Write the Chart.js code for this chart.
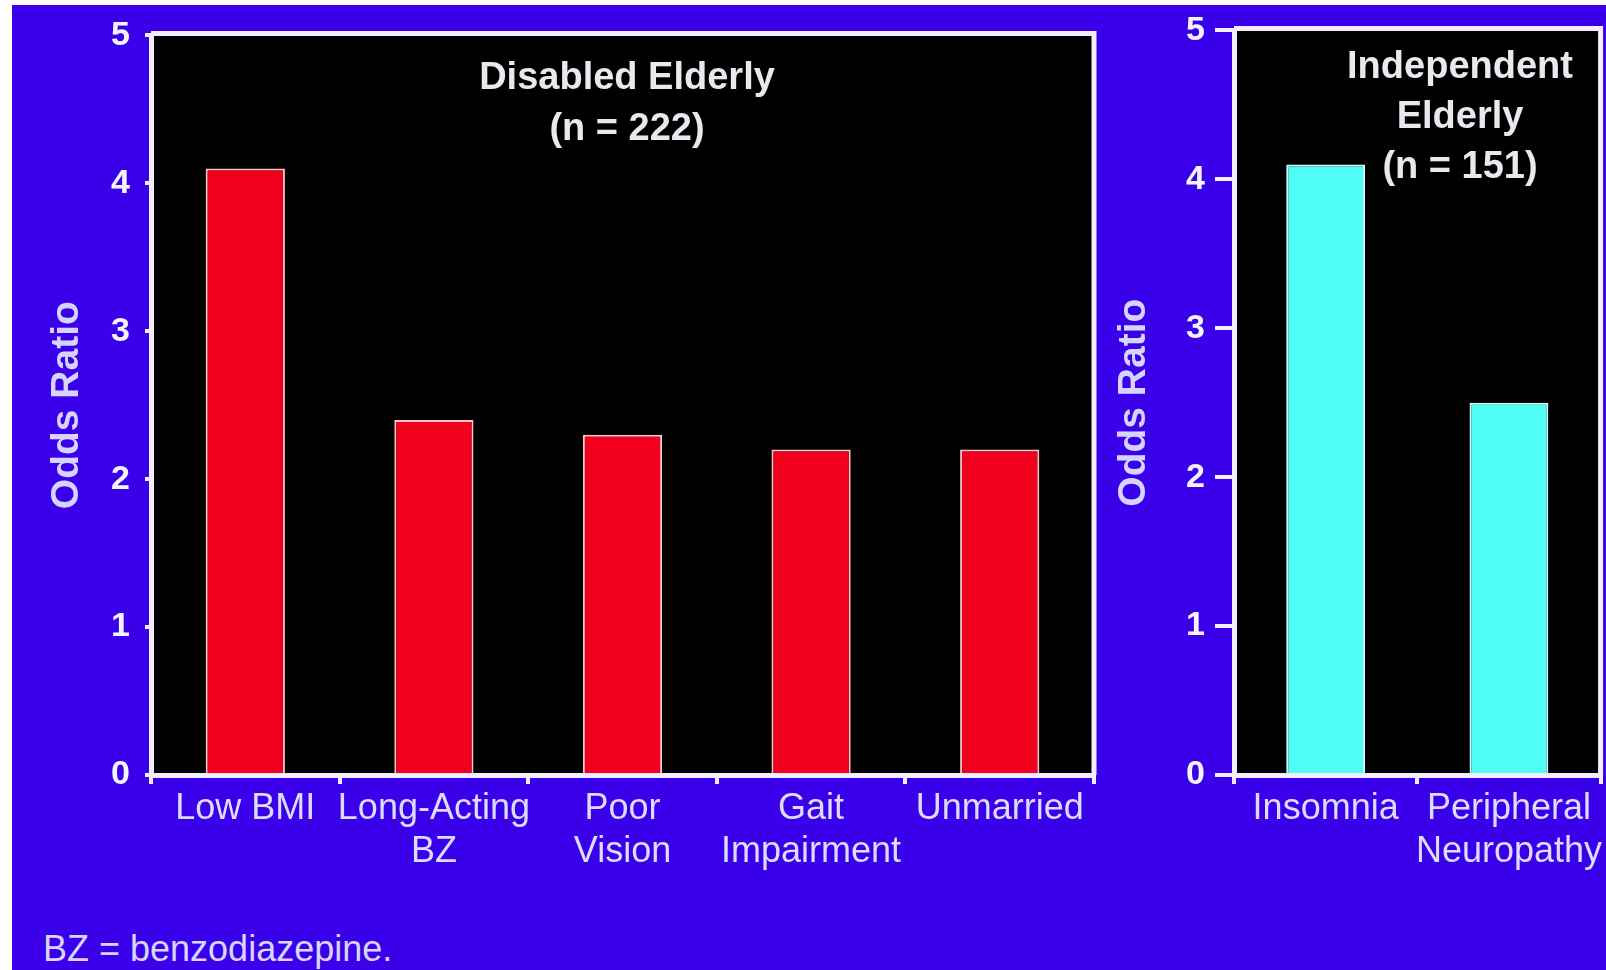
<!DOCTYPE html>
<html>
<head>
<meta charset="utf-8">
<title>Odds Ratio - Disabled vs Independent Elderly</title>
<script src="https://cdn.jsdelivr.net/npm/chart.js@4/dist/chart.umd.min.js"></script>
<style>
  html, body { margin: 0; padding: 0; background: #ffffff; overflow: hidden; }
  #backdrop { position: absolute; left: 12px; top: 5px; width: 1594px; height: 965px; background: #3b00ea; }
  canvas { position: absolute; top: 0; }
  #leftChart { left: 0; }
  #rightChart { left: 1100px; }
  #footnote {
    position: absolute; left: 43px; top: 929px;
    font: 36px "Liberation Sans", Arial, sans-serif; line-height: 40px;
    color: #d6d6ff; white-space: nowrap;
  }
</style>
</head>
<body>
<div id="backdrop"></div>
<canvas id="leftChart" width="1100" height="900"></canvas>
<canvas id="rightChart" width="506" height="900"></canvas>
<div id="footnote"></div>
<script>
// chart data
const leftCategories = ['Low BMI', ['Long-Acting', 'BZ'], ['Poor', 'Vision'], ['Gait', 'Impairment'], 'Unmarried'];
const leftValues = [4.1, 2.4, 2.3, 2.2, 2.2];
const rightCategories = ['Insomnia', ['Peripheral', 'Neuropathy']];
const rightValues = [4.1, 2.5];
const yTicks = [0, 1, 2, 3, 4, 5];
const leftTitle = ['Disabled Elderly', '(n = 222)'];
const rightTitle = ['Independent', 'Elderly', '(n = 151)'];
const axisTitle = 'Odds Ratio';
const footnote = 'BZ = benzodiazepine.';

const FONT = '"Liberation Sans", Arial, sans-serif';
const LINE = '#f2eeff';

document.getElementById('footnote').textContent = footnote;

// black plot area plus top/right frame lines
const plotFrame = {
    id: 'plotFrame',
    beforeDraw(chart) {
        const a = chart.chartArea;
        const ctx = chart.ctx;
        ctx.save();
        ctx.fillStyle = '#000000';
        ctx.fillRect(a.left, a.top, a.right - a.left, a.bottom - a.top);
        ctx.restore();
    },
    afterDraw(chart) {
        const a = chart.chartArea;
        const ctx = chart.ctx;
        ctx.save();
        ctx.strokeStyle = LINE;
        ctx.lineWidth = 5;
        ctx.beginPath();
        ctx.moveTo(a.left, a.top - 2);
        ctx.lineTo(a.right, a.top - 2);
        ctx.lineTo(a.right, a.bottom);
        ctx.stroke();
        ctx.restore();
    }
};

// title drawn inside the plot area
const panelTitle = {
    id: 'panelTitle',
    afterDatasetsDraw(chart, args, opts) {
        const a = chart.chartArea;
        const ctx = chart.ctx;
        ctx.save();
        ctx.font = 'bold 38px ' + FONT;
        ctx.fillStyle = '#e8e8ee';
        ctx.textAlign = 'center';
        ctx.textBaseline = 'middle';
        opts.lines.forEach((t, i) => {
            ctx.fillText(t, a.left + opts.dx, a.top + opts.dy + i * opts.gap);
        });
        ctx.restore();
    }
};

function makeChart(id, categories, values, cfg) {
    const ctx = document.getElementById(id).getContext('2d');
    return new Chart(ctx, {
        type: 'bar',
        data: {
            labels: categories,
            datasets: [{
                data: values,
                backgroundColor: cfg.fill,
                borderColor: cfg.edge,
                borderWidth: 2,
                categoryPercentage: 1,
                barPercentage: cfg.barPct
            }]
        },
        options: {
            responsive: false,
            animation: false,
            layout: { padding: { left: 0, top: cfg.top, right: cfg.right, bottom: 0 } },
            plugins: {
                legend: { display: false },
                tooltip: { enabled: false },
                panelTitle: { lines: cfg.title, dx: cfg.titleDx, dy: cfg.titleDy, gap: cfg.titleGap }
            },
            scales: {
                x: {
                    offset: true,
                    grid: { offset: true, drawOnChartArea: false, drawTicks: true, tickLength: 9, color: LINE, lineWidth: 4 },
                    border: { display: true, color: LINE, width: 5 },
                    ticks: {
                        color: '#dcdcff',
                        font: { family: FONT, size: 36 },
                        padding: 3,
                        maxRotation: 0,
                        autoSkip: false
                    },
                    afterFit: s => { s.height = 125; }
                },
                y: {
                    min: 0,
                    max: 5,
                    afterBuildTicks: s => { s.ticks = yTicks.map(v => ({ value: v })); },
                    grid: { drawOnChartArea: false, drawTicks: true, tickLength: cfg.tickLen, color: LINE, lineWidth: 4 },
                    border: { display: true, color: LINE, width: 5 },
                    ticks: {
                        color: '#f4f4ff',
                        font: { family: FONT, size: 34, weight: 'bold' },
                        padding: cfg.tickPad
                    },
                    title: {
                        display: true,
                        text: axisTitle,
                        color: '#d4d4ff',
                        font: { family: FONT, size: 39, weight: 'bold' },
                        padding: { top: cfg.axisTitlePad, bottom: 0 }
                    },
                    afterFit: s => { s.width = cfg.axisWidth; }
                }
            }
        },
        plugins: [plotFrame, panelTitle]
    });
}

makeChart('leftChart', leftCategories, leftValues, {
    fill: '#f0001c', edge: '#ffc4c8', barPct: 0.42,
    top: 31, right: 6, axisWidth: 151,
    tickLen: 6, tickPad: 15, axisTitlePad: 44,
    title: leftTitle, titleDx: 476, titleDy: 43, titleGap: 51
});

makeChart('rightChart', rightCategories, rightValues, {
    fill: '#4ffcf6', edge: '#d0ffff', barPct: 0.43,
    top: 28, right: 4, axisWidth: 134,
    tickLen: 19, tickPad: 10, axisTitlePad: 11,
    title: rightTitle, titleDx: 226, titleDy: 37, titleGap: 50
});
</script>
</body>
</html>
